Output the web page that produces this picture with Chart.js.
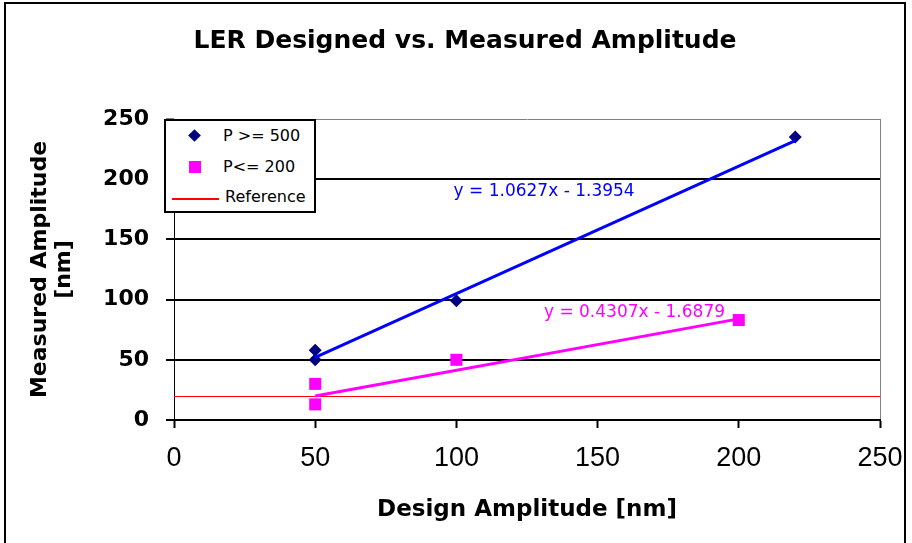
<!DOCTYPE html>
<html>
<head>
<meta charset="utf-8">
<script src="https://cdn.jsdelivr.net/npm/chart.js@4/dist/chart.umd.min.js"></script>
<style>
html, body { margin: 0; padding: 0; background: #fff; }
#wrap { position: relative; width: 912px; height: 543px; }
#legend { position: absolute; left: 164px; top: 119px; width: 148px; height: 90px; border: 2px solid #000; background: #fff; font-family: "DejaVu Sans"; font-size: 16px; color: #000; }
#legend span { position: absolute; }
.lbl { line-height: 20px; white-space: pre; }
</style>
</head>
<body>
<div id="wrap">
  <canvas id="c" width="912" height="543"></canvas>
  <div id="legend">
    <span style="left:24px;top:10px;width:9px;height:9px;background:#000080;transform:rotate(45deg)"></span>
    <span class="lbl" style="left:57px;top:5px">P &gt;= 500</span>
    <span style="left:23px;top:40px;width:12px;height:12px;background:#FF00FF"></span>
    <span class="lbl" style="left:57px;top:36px">P&lt;= 200</span>
    <span style="left:6px;top:77px;width:47px;height:2px;background:#FF0000"></span>
    <span class="lbl" style="left:59px;top:66px">Reference</span>
  </div>
</div>
<script>
// values
const xTicks = [0, 50, 100, 150, 200, 250];
const yTicks = [0, 50, 100, 150, 200, 250];

const hiX = [50, 50, 100, 220];
const hiY = [58, 50, 99, 235];
const loX = [50, 50, 100, 200];
const loY = [30, 13, 50, 83];

const hiTrendX = [50, 220];
const hiTrendY = [52, 232];
const loTrendX = [50, 200];
const loTrendY = [20, 84];

const refX = [0, 250];
const refY = [19.5, 19.5];

const eqText = ['y = 1.0627x - 1.3954', 'y = 0.4307x - 1.6879'];
const eqX = [99, 131];
const eqY = [189.5, 89];
const eqColor = ['#0000FF', '#FF00FF'];

const pts = (xs, ys) => xs.map((x, i) => ({x: x, y: ys[i]}));

const framePlugin = {
    id: 'frame',
    beforeDraw(chart) {
        const ctx = chart.ctx;
        ctx.save();
        ctx.strokeStyle = '#000';
        ctx.lineWidth = 2;
        ctx.beginPath();
        ctx.moveTo(5, 543); ctx.lineTo(5, 3); ctx.lineTo(905, 3); ctx.lineTo(905, 543);
        ctx.stroke();
        ctx.restore();
    }
};

const eqPlugin = {
    id: 'equations',
    afterDatasetsDraw(chart) {
        const ctx = chart.ctx, xs = chart.scales.x, ys = chart.scales.y;
        ctx.save();
        ctx.font = '17px "DejaVu Sans"';
        ctx.textAlign = 'left';
        ctx.textBaseline = 'middle';
        eqText.forEach((t, i) => {
            ctx.fillStyle = eqColor[i];
            ctx.fillText(t, xs.getPixelForValue(eqX[i]), ys.getPixelForValue(eqY[i]));
        });
        ctx.restore();
    }
};

new Chart(document.getElementById('c'), {
    type: 'scatter',
    data: {datasets: [
        {label: 'Reference', data: pts(refX, refY), showLine: true, borderColor: '#FF0000', borderWidth: 1, pointRadius: 0, order: 5},
        {label: 'P >= 500', data: pts(hiX, hiY), pointStyle: 'rectRot', pointRadius: 6.5, backgroundColor: '#000080', borderColor: '#000080', borderWidth: 0, order: 3},
        {label: 'P<= 200', data: pts(loX, loY), pointStyle: 'rect', pointRadius: 8.5, backgroundColor: '#FF00FF', borderColor: '#FF00FF', borderWidth: 0, order: 3},
        {label: 'trend hi', data: pts(hiTrendX, hiTrendY), showLine: true, borderColor: '#0000FF', borderWidth: 3, pointRadius: 0, order: 1},
        {label: 'trend lo', data: pts(loTrendX, loTrendY), showLine: true, borderColor: '#FF00FF', borderWidth: 3, pointRadius: 0, order: 1}
    ]},
    options: {
        responsive: false,
        animation: false,
        layout: {padding: {left: 50, right: 32, top: 0, bottom: 0}},
        plugins: {
            legend: {display: false},
            tooltip: {enabled: false},
            title: {display: true, text: 'LER Designed vs. Measured Amplitude', color: '#000',
                font: {family: 'DejaVu Sans', weight: 'bold', size: 25}, padding: {top: 26, bottom: 63}}
        },
        scales: {
            x: {type: 'linear', min: 0, max: 250,
                afterBuildTicks: s => { s.ticks = xTicks.map(v => ({value: v})); },
                afterFit: s => { s.height = 123; s.paddingRight = 0; s.paddingLeft = 0; },
                ticks: {color: '#000', padding: 14, maxRotation: 0, font: {family: '"Liberation Sans Narrow", "Liberation Sans"', size: 27}},
                grid: {color: c => (c.tick && c.tick.value === 250) ? '#808080' : 'rgba(0,0,0,0)', lineWidth: 1, tickColor: '#000', tickLength: 8, tickWidth: 2},
                border: {color: '#000', width: 2},
                title: {display: true, text: 'Design Amplitude [nm]', color: '#000',
                    font: {family: 'DejaVu Sans', weight: 'bold', size: 23}, padding: {top: 0, bottom: 19}}
            },
            y: {type: 'linear', min: 0, max: 250,
                afterBuildTicks: s => { s.ticks = yTicks.map(v => ({value: v})); },
                afterFit: s => { s.width = 124; },
                ticks: {color: '#000', padding: 17, font: {family: 'DejaVu Sans', weight: 'bold', size: 22}},
                grid: {color: c => (c.tick && c.tick.value === 250) ? '#808080' : '#000',
                    lineWidth: c => (c.tick && c.tick.value === 250) ? 1 : 2, tickColor: '#000', tickLength: 8, tickWidth: 2},
                border: {color: '#000', width: 1},
                title: {display: true, text: ['Measured Amplitude', '[nm]'], color: '#000',
                    font: {family: 'DejaVu Sans', weight: 'bold', size: 22, lineHeight: 1.1}, padding: {top: -22, bottom: 0}}
            }
        }
    },
    plugins: [framePlugin, eqPlugin]
});
</script>
</body>
</html>
